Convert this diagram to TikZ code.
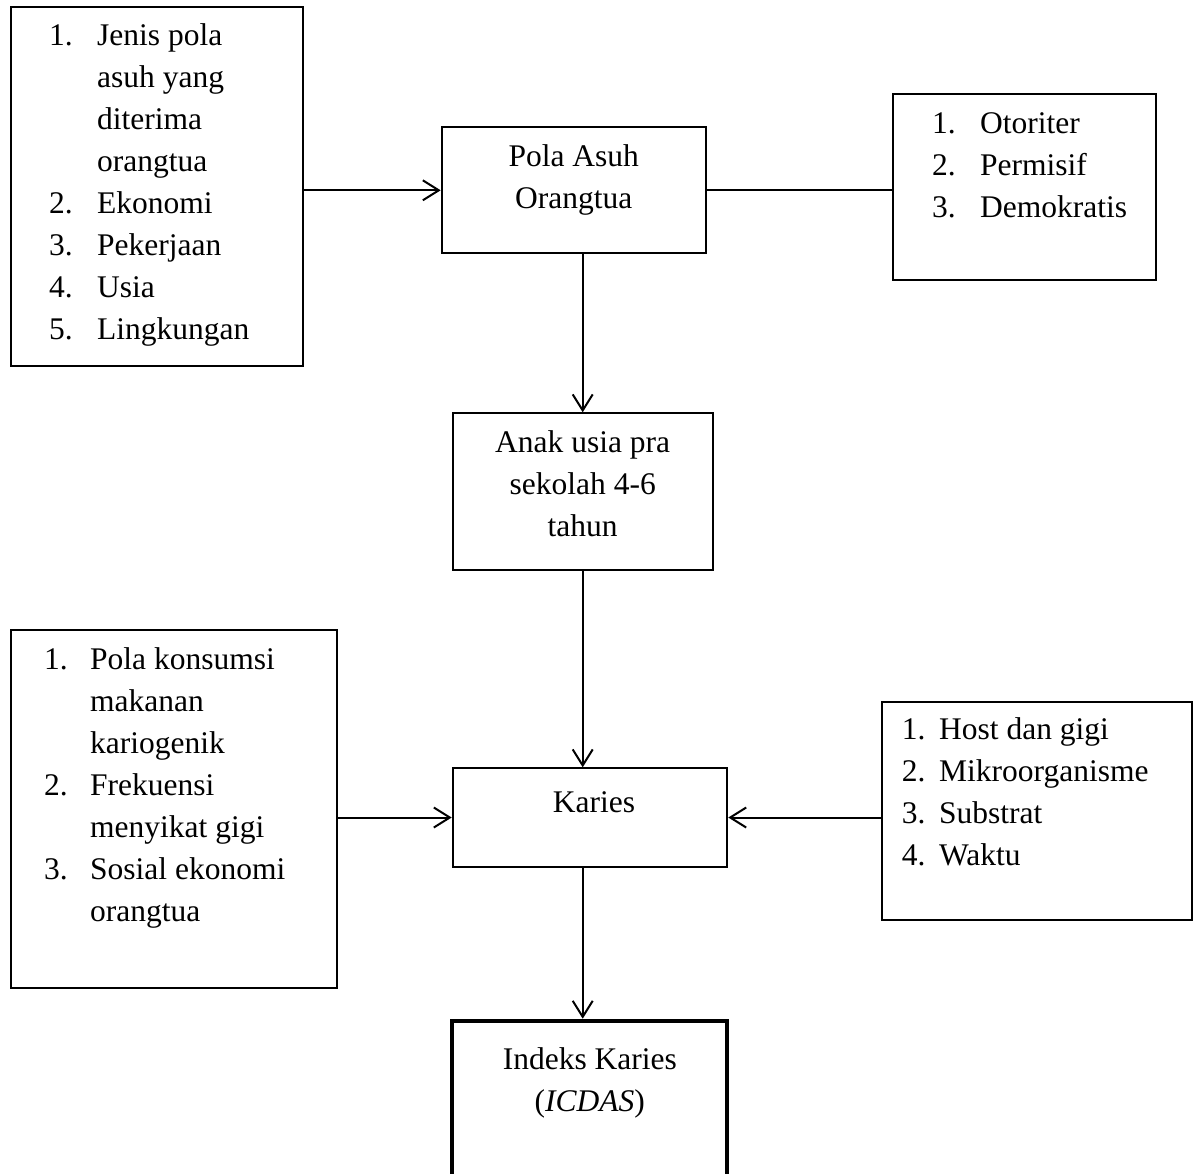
\documentclass[tikz,border=0pt]{standalone}
\usepackage{fontspec}
\setmainfont{Liberation Serif}
\usetikzlibrary{calc}
\usetikzlibrary{arrows.meta}

\begin{document}
\begin{tikzpicture}[x=1pt,y=-1pt,font=\fontsize{31.5}{42}\selectfont]
    \tikzstyle{box}=[shape=rectangle,draw,line width=2pt,inner sep=0pt]
    \tikzstyle{txt}=[inner sep=0pt,anchor=base west]
    \tikzstyle{mid}=[inner sep=0pt,anchor=base]
    \tikzstyle{arr}=[-{Straight Barb[length=16pt,width=20pt]},line width=2pt]

    \useasboundingbox (0,0) rectangle (1198,1173);

    % faktor pola asuh
    \coordinate (faktor_c) at (156.85,186.35);
    \node[box,minimum width=292.3pt,minimum height=359.3pt] (faktor) at (faktor_c) {};
    \node[txt] (faktor_txt) at ($(faktor.north west) + (39.3,40)$)
        {\begin{tabular}[t]{@{}p{48pt}@{}l@{}}
         1. & Jenis pola\\ & asuh yang\\ & diterima\\ & orangtua\\
         2. & Ekonomi\\ 3. & Pekerjaan\\ 4. & Usia\\ 5. & Lingkungan
         \end{tabular}};

    % pola asuh
    \coordinate (pola_c) at (573.7,190.3);
    \node[box,minimum width=264pt,minimum height=126pt] (pola) at (pola_c) {};
    \node[mid] (pola_txt) at ($(pola.north) + (0,40)$)
        {\begin{tabular}[t]{@{}c@{}}Pola Asuh\\ Orangtua\end{tabular}};

    \draw[arr] (faktor.east |- pola.west) -- (pola.west);

    % jenis pola asuh
    \coordinate (gaya_c) at (1024.2,187);
    \node[box,minimum width=263pt,minimum height=186pt] (gaya) at (gaya_c) {};
    \node[txt] (gaya_txt) at ($(gaya.north west) + (40.3,40)$)
        {\begin{tabular}[t]{@{}p{48pt}@{}l@{}}
         1. & Otoriter\\ 2. & Permisif\\ 3. & Demokratis
         \end{tabular}};

    \draw[line width=2pt] (pola.east) -- (pola.east -| gaya.west);

    % anak
    \coordinate (anak_c) at (582.7,491.65);
    \node[box,minimum width=260pt,minimum height=156.7pt] (anak) at (anak_c) {};
    \node[mid] (anak_txt) at ($(anak.north) + (0,40)$)
        {\begin{tabular}[t]{@{}c@{}}Anak usia pra\\ sekolah 4-6\\ tahun\end{tabular}};

    \draw[arr] (pola.south -| anak.north) -- (anak.north);

    % karies
    \coordinate (karies_c) at (590,817.5);
    \node[box,minimum width=274.6pt,minimum height=98.4pt] (karies) at (karies_c) {};
    \node[mid] (karies_txt) at ($(karies.north) + (4,45)$) {Karies};

    \draw[arr] (anak.south) -- (anak.south |- karies.north);

    % faktor karies kiri
    \coordinate (konsumsi_c) at (174,809.15);
    \node[box,minimum width=326.6pt,minimum height=358.3pt] (konsumsi) at (konsumsi_c) {};
    \node[txt] (konsumsi_txt) at ($(konsumsi.north west) + (34.3,40)$)
        {\begin{tabular}[t]{@{}p{46pt}@{}l@{}}
         1. & Pola konsumsi\\ & makanan\\ & kariogenik\\
         2. & Frekuensi\\ & menyikat gigi\\
         3. & Sosial ekonomi\\ & orangtua
         \end{tabular}};

    \draw[arr] (konsumsi.east |- karies.west) -- (karies.west);

    % faktor karies kanan
    \coordinate (etiologi_c) at (1037.3,810.85);
    \node[box,minimum width=310pt,minimum height=218.3pt] (etiologi) at (etiologi_c) {};
    \node[txt] (etiologi_txt) at ($(etiologi.north west) + (20.4,38.3)$)
        {\begin{tabular}[t]{@{}p{37.3pt}@{}l@{}}
         1. & Host dan gigi\\ 2. & Mikroorganisme\\ 3. & Substrat\\ 4. & Waktu
         \end{tabular}};

    \draw[arr] (etiologi.west |- karies.east) -- (karies.east);

    % indeks karies
    \coordinate (indeks_c) at (589.8,1098.85);
    \node[box,line width=4pt,minimum width=275pt,minimum height=156.3pt] (indeks) at (indeks_c) {};
    \node[mid] (indeks_txt) at ($(indeks.north) + (0,51)$)
        {\begin{tabular}[t]{@{}c@{}}Indeks Karies\\ (\textit{ICDAS})\end{tabular}};

    \draw[arr] (anak.south |- karies.south) -- (anak.south |- indeks.north);

\end{tikzpicture}
\end{document}
